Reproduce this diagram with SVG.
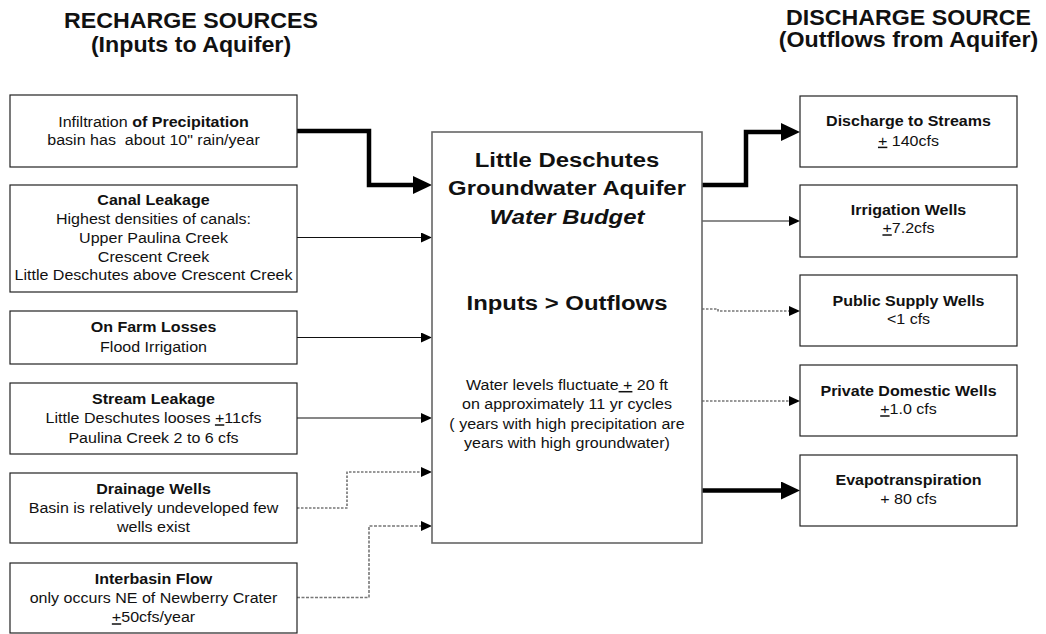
<svg xmlns="http://www.w3.org/2000/svg" width="1046" height="634" viewBox="0 0 1046 634">
<style>
text{font-family:"Liberation Sans",Arial,sans-serif;fill:#111;text-anchor:middle;white-space:pre}
.t{font-size:15px}
.b{font-weight:bold}
.h{font-size:20.5px;font-weight:bold}
.ti{font-size:22px;font-weight:bold}
.box{fill:#fff;stroke:#222;stroke-width:1.2}
.cbox{fill:#fff;stroke:#666;stroke-width:1.6}
.thin{fill:none;stroke:#111;stroke-width:1.2}
.gray{fill:none;stroke:#666;stroke-width:1.3}
.thick{fill:none;stroke:#000;stroke-width:4.5}
.dot{fill:none;stroke:#333;stroke-width:1.1;stroke-dasharray:2.5 1.5}
.dot2{fill:none;stroke:#777;stroke-width:1.6;stroke-dasharray:3 1.5}
.u{text-decoration:underline}
</style>
<defs>
<marker id="a" markerUnits="userSpaceOnUse" markerWidth="11" markerHeight="10" refX="6" refY="5" orient="auto"><path d="M0,0 L11,5 L0,10 Z" fill="#000"/></marker>
<marker id="A" markerUnits="userSpaceOnUse" markerWidth="19" markerHeight="18" refX="11" refY="9" orient="auto"><path d="M0,0 L19,9 L0,18 Z" fill="#000"/></marker>
</defs>

<g id="titles">
<text class="ti" transform="matrix(1.055 0 0 1 191 0)"><tspan x="0" y="28">RECHARGE SOURCES</tspan><tspan x="0" y="52.5">(Inputs to Aquifer)</tspan></text>
<text class="ti" transform="matrix(1.055 0 0 1 908.5 0)"><tspan x="0" y="25">DISCHARGE SOURCE</tspan><tspan x="0" y="47.5">(Outflows from Aquifer)</tspan></text>
</g>

<g id="connectors">
<path class="thick" d="M297,131 H369 V185 H424" marker-end="url(#A)"/>
<path class="thin" d="M297,237.5 H427" marker-end="url(#a)"/>
<path class="thin" d="M297,337.5 H427" marker-end="url(#a)"/>
<path class="thin" d="M297,418 H427" marker-end="url(#a)"/>
<path class="dot" d="M297,508 H347 V472 H427" marker-end="url(#a)"/>
<path class="dot2" d="M297,597.5 H369 V526 H427" marker-end="url(#a)"/>
<path class="thick" d="M702,185 H746 V132 H792" marker-end="url(#A)"/>
<path class="gray" d="M702,221 H795" marker-end="url(#a)"/>
<path class="dot" d="M702,309 H718 V311 H795" marker-end="url(#a)"/>
<path class="dot" d="M702,401 H795" marker-end="url(#a)"/>
<path class="thick" d="M702,490.5 H792" marker-end="url(#A)"/>
</g>

<g id="precipitation">
<rect class="box" x="10" y="95" width="287" height="72"/>
<text class="t" transform="matrix(1.07 0 0 1 153.5 0)"><tspan x="0" y="127">Infiltration <tspan class="b">of Precipitation</tspan></tspan><tspan x="0" y="145.5">basin has  about 10" rain/year</tspan></text>
</g>

<g id="canal">
<rect class="box" x="10" y="185" width="287" height="107"/>
<text class="t" transform="matrix(1.07 0 0 1 153.5 0)"><tspan x="0" y="205.5" class="b">Canal Leakage</tspan><tspan x="0" y="224.3">Highest densities of canals:</tspan><tspan x="0" y="243">Upper Paulina Creek</tspan><tspan x="0" y="261.8">Crescent Creek</tspan><tspan x="0" y="280.5">Little Deschutes above Crescent Creek</tspan></text>
</g>

<g id="onfarm">
<rect class="box" x="10" y="311" width="287" height="53"/>
<text class="t" transform="matrix(1.07 0 0 1 153.5 0)"><tspan x="0" y="332.3" class="b">On Farm Losses</tspan><tspan x="0" y="351.7">Flood Irrigation</tspan></text>
</g>

<g id="stream">
<rect class="box" x="10" y="383" width="287" height="71"/>
<text class="t" transform="matrix(1.07 0 0 1 153.5 0)"><tspan x="0" y="404" class="b">Stream Leakage</tspan><tspan x="0" y="423.3">Little Deschutes looses <tspan class="u">+</tspan>11cfs</tspan><tspan x="0" y="442.7">Paulina Creek 2 to 6 cfs</tspan></text>
</g>

<g id="drainage">
<rect class="box" x="10" y="473" width="287" height="70"/>
<text class="t" transform="matrix(1.07 0 0 1 153.5 0)"><tspan x="0" y="494" class="b">Drainage Wells</tspan><tspan x="0" y="513.3">Basin is relatively undeveloped few</tspan><tspan x="0" y="532.3">wells exist</tspan></text>
</g>

<g id="interbasin">
<rect class="box" x="10" y="563" width="287" height="70"/>
<text class="t" transform="matrix(1.07 0 0 1 153.5 0)"><tspan x="0" y="584" class="b">Interbasin Flow</tspan><tspan x="0" y="603.3">only occurs NE of Newberry Crater</tspan><tspan x="0" y="622.3"><tspan class="u">+</tspan>50cfs/year</tspan></text>
</g>

<g id="aquifer">
<rect class="cbox" x="432" y="132" width="270" height="411"/>
<text class="h" transform="matrix(1.165 0 0 1 567 0)"><tspan x="0" y="167">Little Deschutes</tspan><tspan x="0" y="195.5">Groundwater Aquifer</tspan><tspan x="0" y="224" font-style="italic">Water Budget</tspan><tspan x="0" y="310">Inputs &gt; Outflows</tspan></text>
<text class="t" transform="matrix(1.07 0 0 1 567 0)"><tspan x="0" y="390">Water levels fluctuate<tspan class="u"> +</tspan> 20 ft</tspan><tspan x="0" y="409.5">on approximately 11 yr cycles</tspan><tspan x="0" y="429">( years with high precipitation are</tspan><tspan x="0" y="448.5">years with high groundwater)</tspan></text>
</g>

<g id="streams">
<rect class="box" x="800" y="96" width="217" height="71"/>
<text class="t" transform="matrix(1.07 0 0 1 908.5 0)"><tspan x="0" y="126" class="b">Discharge to Streams</tspan><tspan x="0" y="145.7"><tspan class="u">+</tspan> 140cfs</tspan></text>
</g>

<g id="irrigation">
<rect class="box" x="800" y="185" width="217" height="72"/>
<text class="t" transform="matrix(1.07 0 0 1 908.5 0)"><tspan x="0" y="215" class="b">Irrigation Wells</tspan><tspan x="0" y="233.3"><tspan class="u">+</tspan>7.2cfs</tspan></text>
</g>

<g id="public">
<rect class="box" x="800" y="275" width="217" height="71"/>
<text class="t" transform="matrix(1.07 0 0 1 908.5 0)"><tspan x="0" y="305.7" class="b">Public Supply Wells</tspan><tspan x="0" y="324">&lt;1 cfs</tspan></text>
</g>

<g id="domestic">
<rect class="box" x="800" y="365" width="217" height="71"/>
<text class="t" transform="matrix(1.07 0 0 1 908.5 0)"><tspan x="0" y="395.7" class="b">Private Domestic Wells</tspan><tspan x="0" y="414.3"><tspan class="u">+</tspan>1.0 cfs</tspan></text>
</g>

<g id="evapo">
<rect class="box" x="800" y="455" width="217" height="71"/>
<text class="t" transform="matrix(1.07 0 0 1 908.5 0)"><tspan x="0" y="485" class="b">Evapotranspiration</tspan><tspan x="0" y="504">+ 80 cfs</tspan></text>
</g>
</svg>
